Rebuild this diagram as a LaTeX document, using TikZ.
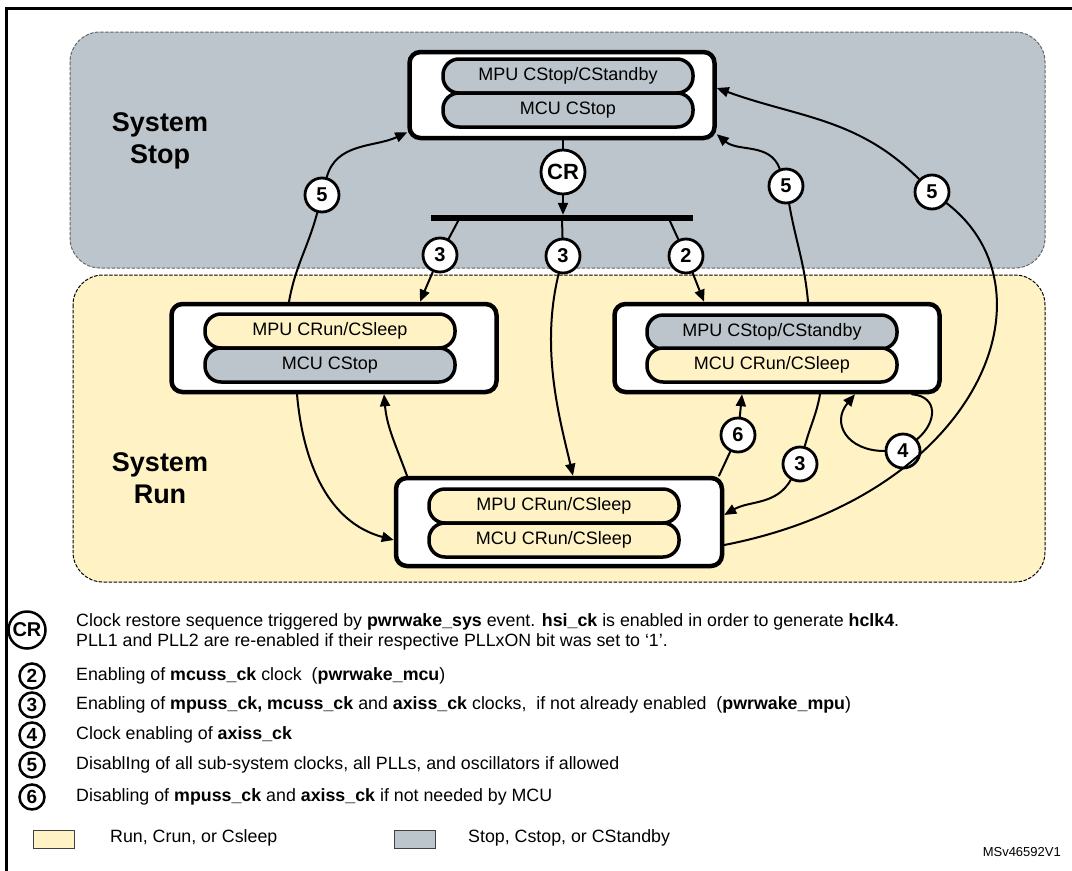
\documentclass[tikz,border=0pt]{standalone}
\usepackage{fontspec}
\setmainfont{Liberation Sans}
\usetikzlibrary{arrows.meta}
\definecolor{stopgray}{RGB}{188,197,203}
\definecolor{runyellow}{RGB}{255,242,196}
\begin{document}
\begin{tikzpicture}[x=1pt,y=-1pt,>={Triangle[length=12pt,width=10pt]},line cap=round,
  statebox/.style={draw,line width=4.5pt,rounded corners=11pt,fill=white,minimum width=#1,minimum height=88pt,inner sep=0pt},
  pill/.style={draw,line width=3.5pt,rounded corners=16pt,minimum width=250pt,minimum height=34pt,inner sep=0pt,font=\fontsize{18}{18}\selectfont},
  runpill/.style={pill,fill=runyellow},
  stoppill/.style={pill,fill=stopgray},
  badge/.style={circle,draw,line width=2.8pt,fill=white,minimum size=34pt,inner sep=0pt,font=\fontsize{20}{20}\selectfont\bfseries},
  legbadge/.style={circle,draw,line width=2.5pt,minimum size=25pt,inner sep=0pt,font=\fontsize{19}{19}\selectfont\bfseries},
  legtxt/.style={anchor=west,inner sep=0pt,align=left,font=\fontsize{17.8}{20}\selectfont},
  swatch/.style={draw=black!75,line width=1pt,minimum width=41pt,minimum height=18pt,inner sep=0pt},
  region/.style={font=\fontsize{27}{32}\selectfont\bfseries,align=center},
  link/.style={line width=2pt},
  flow/.style={->,line width=2pt}]
\useasboundingbox (0,0) rectangle (1072,871);
\draw[line width=3pt] (1072,8) -- (6,8) -- (6,871);
\draw[black!60,line width=1pt,dash pattern=on 3pt off 2pt,fill=stopgray,rounded corners=30pt] (70,32) rectangle (1045,268);
\draw[black,line width=1pt,dash pattern=on 3pt off 2pt,fill=runyellow,rounded corners=30pt] (73,275) rectangle (1045,582);
\node[region] (sysstop) at (160,141) {System\\Stop};
\node[region] (sysrun) at (160,478) {System\\Run};

\node[statebox=305pt,minimum height=86pt] (stopbox) at (562,95) {};
\node[stoppill] (stopmpu) at (568,76) {MPU CStop/CStandby};
\node[stoppill] (stopmcu) at (568,110) {MCU CStop};
\node[statebox=325pt] (lbox) at (334,348) {};
\node[runpill] (lmpu) at (330,331) {MPU CRun/CSleep};
\node[stoppill] (lmcu) at (330,365) {MCU CStop};
\node[statebox=325pt] (rbox) at (777,348) {};
\node[stoppill] (rmpu) at (772,332) {MPU CStop/CStandby};
\node[runpill] (rmcu) at (772,365) {MCU CRun/CSleep};
\node[statebox=326pt] (sbox) at (559,522) {};
\node[runpill] (smpu) at (554,506) {MPU CRun/CSleep};
\node[runpill] (smcu) at (554,540) {MCU CRun/CSleep};

\node[badge,minimum size=44pt,font=\fontsize{22}{22}\selectfont\bfseries] (cr) at (563,172) {CR};
\node[fill=black,minimum width=262pt,minimum height=6pt,inner sep=0pt] (bus) at (562,218) {};
\node[badge] (b3l) at (440,255) {3};
\node[badge] (b3m) at (563,256) {3};
\node[badge] (b2) at (686,256) {2};
\node[badge] (b5l) at (322,195) {5};
\node[badge] (b5r) at (786,186) {5};
\node[badge] (b5o) at (932,192) {5};
\node[badge] (b6) at (738,435) {6};
\node[badge] (b3r) at (800,464) {3};
\node[badge] (b4) at (903,451) {4};

\draw[link] (cr) -- (cr |- stopbox.south);
\draw[flow] (cr) -- (cr |- bus.north);
\draw[link] ([xshift=-104pt]bus.south) -- (b3l);
\draw[flow] (b3l) -- ([xshift=86pt]lbox.north);
\draw[link] (bus) -- (b3m);
\draw[flow] (b3m) .. controls (540,350) and (560,420) .. ([xshift=14pt]sbox.north);
\draw[link] ([xshift=108pt]bus.south) -- (b2);
\draw[flow] (b2) -- ([xshift=-73pt]rbox.north);
\draw[link] ([xshift=-45pt]lbox.north) to[out=80,in=-105] (b5l);
\draw[flow] (b5l) to[out=75,in=205] ([yshift=8pt]stopbox.south west);
\draw[link] ([xshift=31pt]rbox.north) to[out=95,in=-80] (b5r);
\draw[flow] (b5r) to[out=110,in=-40] ([yshift=6pt]stopbox.south east);
\draw[link] ([yshift=-23pt]sbox.east) .. controls (980,495) and (1060,290) .. (b5o);
\draw[flow] (b5o) to[out=135,in=-20] ([yshift=7pt]stopbox.east);
\draw[flow] ([xshift=-37pt]lbox.south) to[out=-85,in=165] ([yshift=-18pt]sbox.west);
\draw[flow] ([xshift=-152pt]sbox.north) to[out=110,in=-85] ([xshift=50pt]lbox.south);
\draw[link] ([xshift=160pt]sbox.north) -- (b6);
\draw[flow] (b6) -- ([xshift=-35pt]rbox.south);
\draw[link] ([xshift=43pt]rbox.south) to[out=-100,in=75] (b3r);
\draw[flow] (b3r) to[out=-120,in=30] ([yshift=7pt]sbox.east);
\draw[link] ([xshift=135pt]rbox.south) to[out=-5,in=40,looseness=1.5] (b4);
\draw[flow] (b4) to[out=180,in=-130,looseness=1.5] ([xshift=78pt]rbox.south);

\node[legbadge,minimum size=37pt,font=\fontsize{20}{20}\selectfont\bfseries] (legcr) at (27,630) {CR};
\node[legtxt] (txtcr) at (76,632) {Clock restore sequence triggered by \textbf{pwrwake\_sys} event. \textbf{hsi\_ck} is enabled in order to generate \textbf{hclk4}.\\PLL1 and PLL2 are re-enabled if their respective PLLxON bit was set to ‘1’.};
\node[legbadge] (leg2) at (32,676) {2};
\node[legtxt] (txt2) at (76,676) {Enabling of \textbf{mcuss\_ck} clock\ \ (\textbf{pwrwake\_mcu})};
\node[legbadge] (leg3) at (32,705) {3};
\node[legtxt] (txt3) at (76,705) {Enabling of \textbf{mpuss\_ck, mcuss\_ck} and \textbf{axiss\_ck} clocks,\ \ if not already enabled\ \ (\textbf{pwrwake\_mpu})};
\node[legbadge] (leg4) at (32,735) {4};
\node[legtxt] (txt4) at (76,735) {Clock enabling of \textbf{axiss\_ck}};
\node[legbadge] (leg5) at (32,765) {5};
\node[legtxt] (txt5) at (76,765) {DisablIng of all sub-system clocks, all PLLs, and oscillators if allowed};
\node[legbadge] (leg6) at (32,797) {6};
\node[legtxt] (txt6) at (76,797) {Disabling of \textbf{mpuss\_ck} and \textbf{axiss\_ck} if not needed by MCU};
\node[swatch,fill=runyellow] (swrun) at (54,839) {};
\node[legtxt] (txtrun) at (110,838) {Run, Crun, or Csleep};
\node[swatch,fill=stopgray] (swstop) at (415,839) {};
\node[legtxt] (txtstop) at (468,838) {Stop, Cstop, or CStandby};
\node[anchor=east,inner sep=0pt,font=\fontsize{13}{13}\selectfont] (code) at (1061,852) {MSv46592V1};
\end{tikzpicture}
\end{document}
